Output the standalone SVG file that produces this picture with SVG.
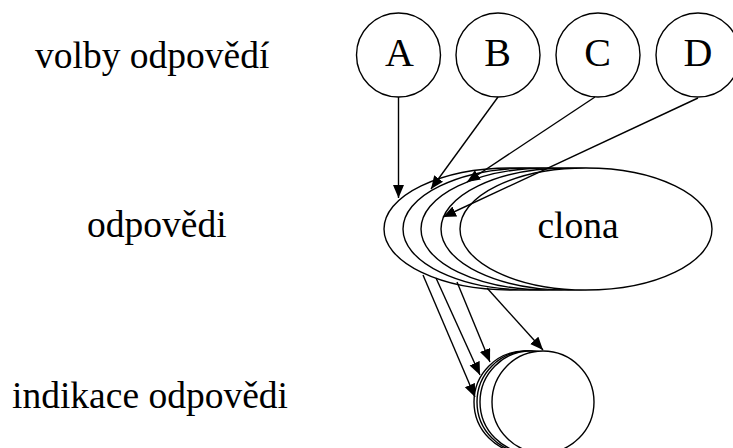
<svg xmlns="http://www.w3.org/2000/svg" width="733" height="448" viewBox="0 0 733 448">
<style>
.shape{fill:#fff;stroke:#000;stroke-width:1.4}
.lbl{font-family:"Liberation Serif","Times New Roman",serif;font-size:37.5px;fill:#000}
.let{font-family:"Liberation Serif","Times New Roman",serif;font-size:40px;fill:#000;text-anchor:middle}
.edge{stroke:#000;stroke-width:1.4;fill:none;marker-end:url(#ah)}
</style>
<defs>
<marker id="ah" markerUnits="userSpaceOnUse" markerWidth="14" markerHeight="12" refX="13" refY="5.5" orient="auto">
<path d="M0,0 L13,5.5 L0,11 Z" fill="#000"/>
</marker>
</defs>
<rect width="733" height="448" fill="#fff"/>
<g id="labels">
<text class="lbl" x="35" y="68">volby odpovědí</text>
<text class="lbl" x="87" y="237">odpovědi</text>
<text class="lbl" x="12" y="408">indikace odpovědi</text>
</g>
<g id="nodeA"><circle class="shape" cx="398.5" cy="55" r="42"/><text class="let" x="399.5" y="66">A</text></g>
<g id="nodeB"><circle class="shape" cx="498" cy="55" r="42"/><text class="let" x="497.5" y="66">B</text></g>
<g id="nodeC"><circle class="shape" cx="598" cy="55" r="42"/><text class="let" x="597.5" y="66">C</text></g>
<g id="nodeD"><circle class="shape" cx="698" cy="55" r="42"/><text class="let" x="698" y="66">D</text></g>
<g id="odp1"><ellipse class="shape" cx="511" cy="229" rx="127" ry="61"/></g>
<g id="odp2"><ellipse class="shape" cx="530" cy="229" rx="127" ry="61"/></g>
<g id="odp3"><ellipse class="shape" cx="548" cy="229" rx="127" ry="61"/></g>
<g id="odp4"><ellipse class="shape" cx="568" cy="229" rx="127" ry="61"/></g>
<g id="clona"><ellipse class="shape" cx="586" cy="229" rx="126" ry="61"/><text class="lbl" x="578" y="238" text-anchor="middle">clona</text></g>
<g id="ind1"><circle class="shape" cx="525" cy="402" r="51"/></g>
<g id="ind2"><circle class="shape" cx="528" cy="402" r="51"/></g>
<g id="ind3"><circle class="shape" cx="531" cy="402" r="51"/></g>
<g id="ind4"><circle class="shape" cx="543" cy="402" r="51"/></g>
<g id="connectors">
<line class="edge" x1="398.5" y1="97" x2="398.5" y2="198"/>
<line class="edge" x1="498" y1="97" x2="431" y2="189"/>
<line class="edge" x1="595" y1="97" x2="467" y2="182"/>
<line class="edge" x1="698" y1="98" x2="443" y2="217"/>
<line class="edge" x1="423" y1="275" x2="475" y2="397"/>
<line class="edge" x1="436" y1="278" x2="480" y2="375"/>
<line class="edge" x1="457" y1="282" x2="490" y2="362"/>
<line class="edge" x1="487" y1="288" x2="543" y2="350"/>
</g>
</svg>
